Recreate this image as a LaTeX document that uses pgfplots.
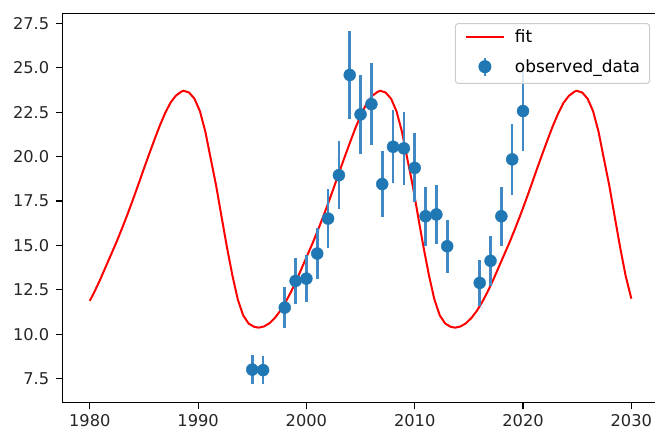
\documentclass[border=0pt]{standalone}
\usepackage{fontspec}
\setmainfont{DejaVu Sans}
\usepackage{pgfplots}
\usepackage{pgfplotstable}
\pgfplotsset{compat=1.18}
\usetikzlibrary{calc}

\definecolor{tabblue}{HTML}{1F77B4}
\definecolor{barblue}{HTML}{4189C4}

% observed points, error = 10% of value
\pgfplotstableread{
x    y     e
1995 8.01  0.80
1996 7.98  0.80
1998 11.50 1.15
1999 13.00 1.30
2000 13.13 1.31
2001 14.54 1.45
2002 16.51 1.65
2003 18.95 1.90
2004 24.59 2.46
2005 22.37 2.24
2006 22.95 2.30
2007 18.45 1.85
2008 20.55 2.06
2009 20.46 2.05
2010 19.36 1.94
2011 16.64 1.66
2012 16.74 1.67
2013 14.95 1.50
2016 12.89 1.29
2017 14.13 1.41
2018 16.64 1.66
2019 19.84 1.98
2020 22.56 2.26
}\obsdata

\begin{document}
\begin{tikzpicture}
\begin{axis}[
  scale only axis,
  width=595.7bp, height=389bp,
  xmin=1977.5, xmax=2032.5,
  ymin=6.17, ymax=28.06,
  xtick={1980,1990,2000,2010,2020,2030},
  ytick={7.5,10,12.5,15,17.5,20,22.5,25,27.5},
  xtick pos=bottom, ytick pos=left,
  tick align=outside,
  major tick length=7bp,
  axis line style={line width=1.1bp, black},
  tick style={line width=1.1bp, black},
  /pgf/number format/assume math mode=true,
  ticklabel style={font=\fontsize{16.3}{19}\selectfont, text=black!85},
  xticklabel style={yshift=-2bp, /pgf/number format/set thousands separator={}},
  yticklabel style={xshift=-3bp, /pgf/number format/.cd, fixed, fixed zerofill, precision=1},
  legend style={
    at={(0.9826,0.975)}, anchor=north east, xshift=2bp,
    draw=black!20, line width=1bp, rounded corners=3bp,
    fill=white, fill opacity=0.8, text opacity=1,
    font=\fontsize{17}{19}\selectfont,
    nodes={inner sep=0pt},
    inner xsep=9.5bp, inner ysep=6.5bp,
    row sep=12bp, column sep=10bp,
  },
  legend cell align=left,
]
\coordinate (ll) at (rel axis cs:0,0);
\coordinate (ur) at (rel axis cs:1,1);

\addlegendimage{legend image code/.code={
  \draw[red, line width=2bp, draw opacity=1] (0bp,0bp) -- (38bp,0bp);}}
\addlegendentry{fit}
\addlegendimage{legend image code/.code={
  \draw[barblue, line width=2.6bp, draw opacity=1] (19bp,-9bp) -- (19bp,9bp);
  \fill[tabblue, fill opacity=1] (19bp,0bp) circle (6bp);
  \path[draw=none, fill=none] (0bp,0bp) -- (38bp,0bp);}}
\addlegendentry{observed\_data}

\addplot[red, line width=2bp, forget plot]
coordinates {
(1980.00,11.88) (1980.44,12.40) (1980.94,13.05) (1981.44,13.75) (1981.94,14.45)
(1982.44,15.15) (1982.94,15.90) (1983.44,16.68) (1983.94,17.50) (1984.44,18.35)
(1984.94,19.22) (1985.44,20.07) (1985.94,20.90) (1986.44,21.70) (1986.94,22.42)
(1987.44,23.02) (1987.94,23.42) (1988.44,23.65) (1988.67,23.70) (1989.17,23.60)
(1989.67,23.25) (1990.17,22.55) (1990.67,21.40) (1991.17,19.87) (1991.67,18.35)
(1992.17,16.60) (1992.67,14.88) (1993.17,13.30) (1993.67,11.95) (1994.17,11.05)
(1994.67,10.60) (1995.17,10.42) (1995.59,10.37) (1996.09,10.44) (1996.59,10.62)
(1997.09,10.92) (1997.59,11.32) (1998.09,11.82) (1998.59,12.40) (1999.09,13.05)
(1999.59,13.75) (2000.09,14.45) (2000.59,15.15) (2001.09,15.90) (2001.59,16.68)
(2002.09,17.50) (2002.59,18.35) (2003.09,19.22) (2003.59,20.07) (2004.09,20.90)
(2004.59,21.70) (2005.09,22.42) (2005.59,23.02) (2006.09,23.42) (2006.59,23.65)
(2006.82,23.70) (2007.32,23.60) (2007.82,23.25) (2008.32,22.55) (2008.82,21.40)
(2009.32,19.87) (2009.82,18.35) (2010.32,16.60) (2010.82,14.88) (2011.32,13.30)
(2011.82,11.95) (2012.32,11.05) (2012.82,10.60) (2013.32,10.42) (2013.74,10.37)
(2014.24,10.44) (2014.74,10.62) (2015.24,10.92) (2015.74,11.32) (2016.24,11.82)
(2016.74,12.40) (2017.24,13.05) (2017.74,13.75) (2018.24,14.45) (2018.74,15.15)
(2019.24,15.90) (2019.74,16.68) (2020.24,17.50) (2020.74,18.35) (2021.24,19.22)
(2021.74,20.07) (2022.24,20.90) (2022.74,21.70) (2023.24,22.42) (2023.74,23.02)
(2024.24,23.42) (2024.74,23.65) (2024.97,23.70) (2025.47,23.60) (2025.97,23.25)
(2026.47,22.55) (2026.97,21.40) (2027.47,19.87) (2027.97,18.35) (2028.47,16.60)
(2028.97,14.88) (2029.47,13.30) (2030.00,12.00)
};

\addplot[only marks, mark=*, mark size=6bp, forget plot,
  mark options={draw=tabblue, fill=tabblue},
  error bars/.cd, y dir=both, y explicit, error mark=none,
  error bar style={line width=2.6bp, barblue}]
table[x=x, y=y, y error=e] {\obsdata};
\end{axis}
\pgfresetboundingbox
\path ($(ll)+(-62.7bp,-30.7bp)$) rectangle ($(ur)+(-3.4bp,13.3bp)$);
\end{tikzpicture}
\end{document}
